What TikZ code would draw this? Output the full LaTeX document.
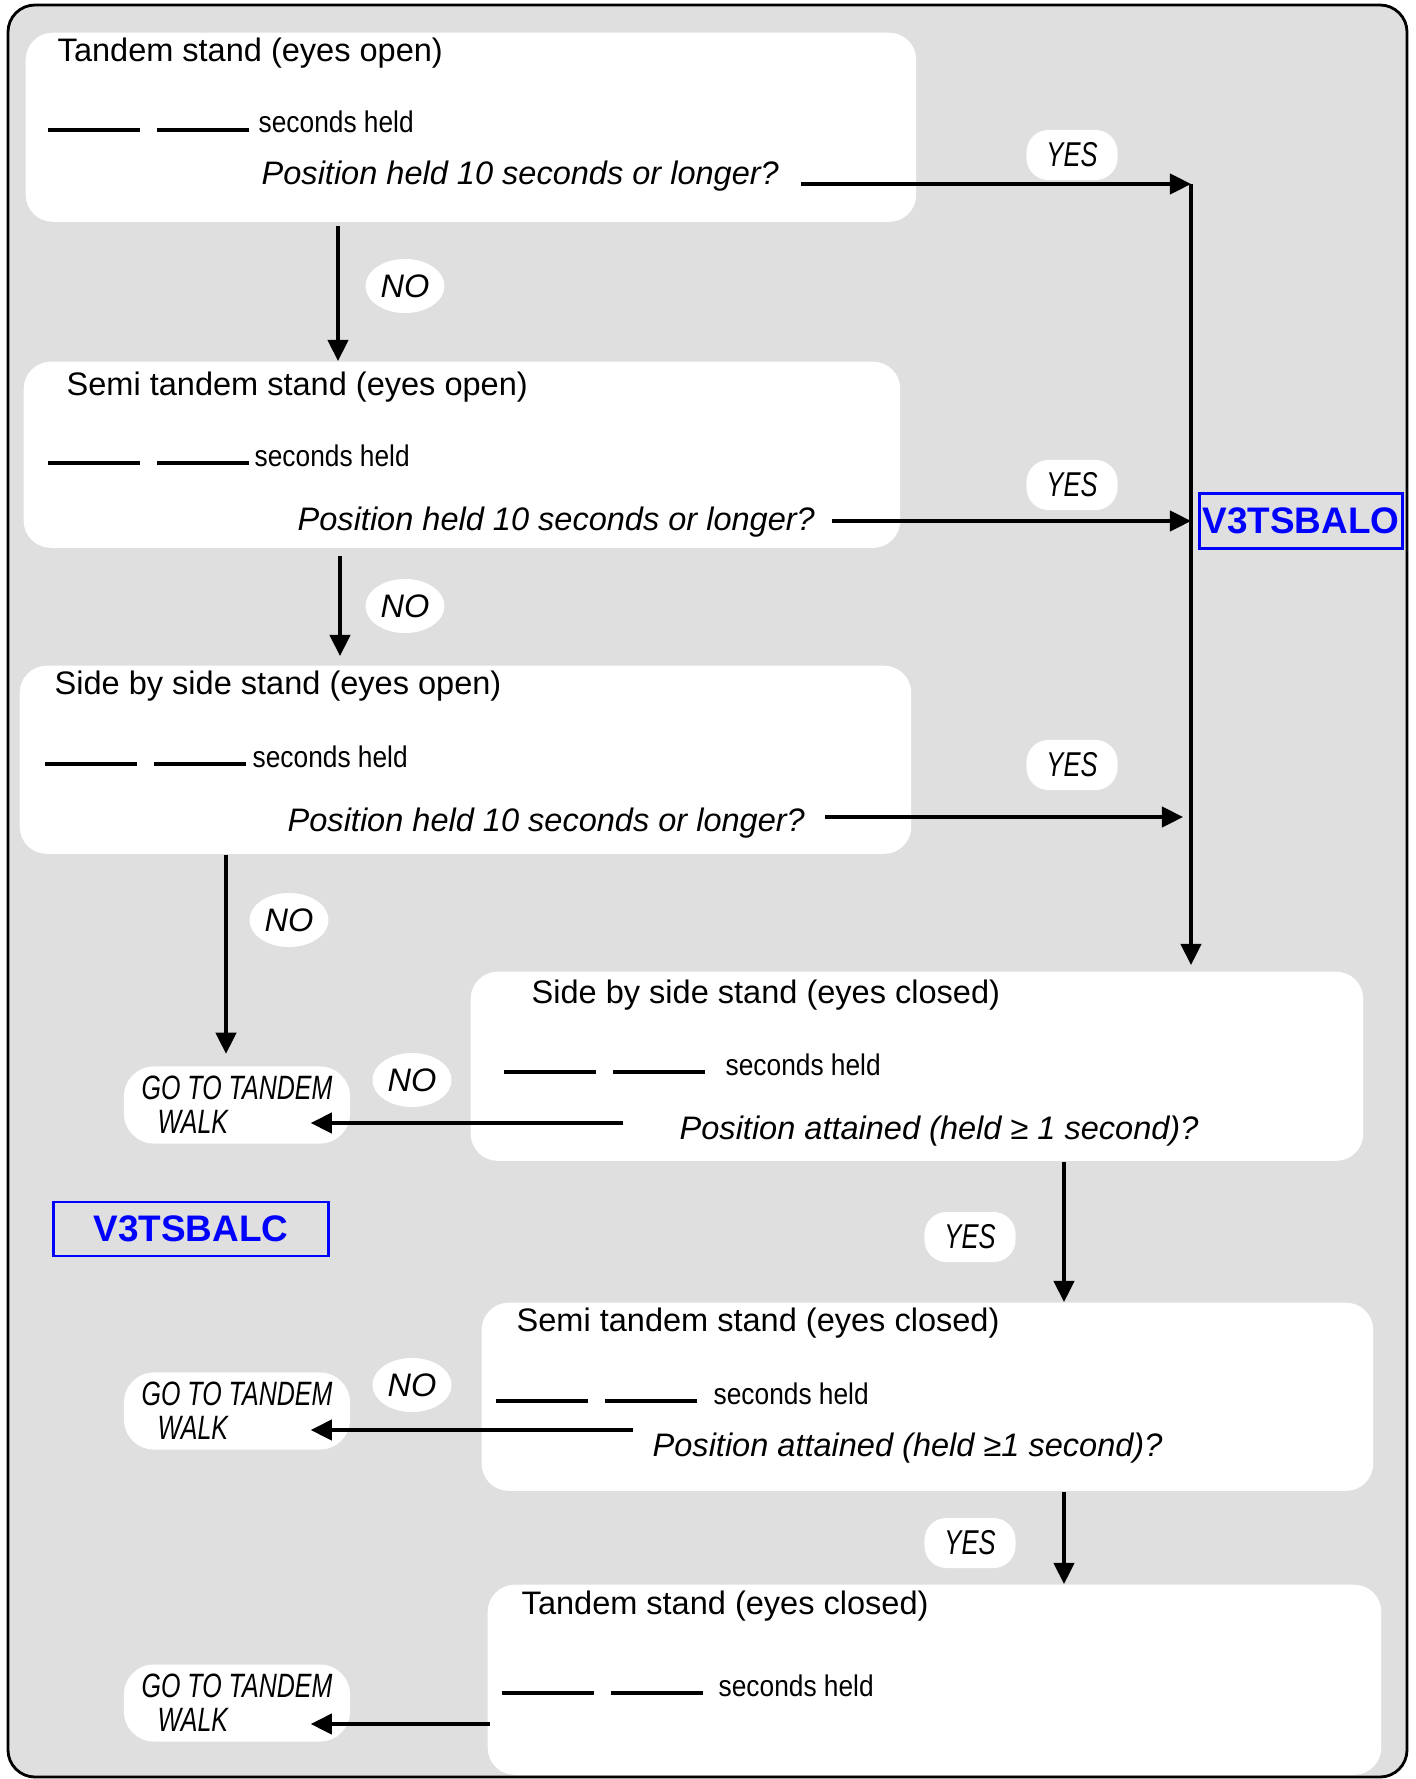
\documentclass[tikz,border=0pt]{standalone}
\usepackage{fontspec}
\setmainfont{Liberation Sans}
\newfontfamily\narrowfont[FakeStretch=0.74]{Liberation Sans}
\newfontfamily\heldfont[FakeStretch=0.88]{Liberation Sans}
\usetikzlibrary{arrows.meta, shapes.geometric, calc}

\begin{document}
\begin{tikzpicture}[
          x=0.01cm, y=-0.01cm,
          every node/.style={inner sep=0pt},
          stepbox/.style={fill=white, rounded corners=0.27cm, anchor=north west},
          title/.style={anchor=west, font=\fontsize{9.25}{11}\selectfont},
          question/.style={anchor=west, font=\fontsize{9.25}{11}\selectfont\itshape},
          held/.style={anchor=base west, font=\heldfont\fontsize{8.5}{10}\selectfont},
          blank/.style={line width=1.1pt},
          yes/.style={fill=white, rounded corners=0.22cm, minimum width=0.91cm, minimum height=0.5cm,
                      font=\narrowfont\fontsize{9.8}{11}\selectfont\itshape},
          no/.style={ellipse, fill=white, minimum width=0.79cm, minimum height=0.54cm,
                     font=\fontsize{9.25}{11}\selectfont\itshape},
          walk/.style={fill=white, rounded corners=0.3cm, minimum width=2.26cm, minimum height=0.77cm,
                       align=left, font=\narrowfont\fontsize{9.6}{9.7}\selectfont\itshape},
          code/.style={draw=blue, line width=0.75pt, text=blue, font=\bfseries\fontsize{10.5}{12}\selectfont},
          arr/.style={line width=0.9pt, -{Triangle[length=6pt, width=5.8pt]}}
        ]
        \useasboundingbox (0,0) rectangle (1415,1779);

        % Frame
        \draw[line width=0.8pt, fill=gray!25, rounded corners=0.27cm] (8,5) rectangle (1407,1777);

        % Tandem stand (eyes open)
        \node[stepbox, minimum width=8.90cm, minimum height=1.89cm] (box1) at (25,32) {};
        \node[title] (t1) at (57,53) {Tandem stand (eyes open)};
        \node[held] (h1) at (258,133) {seconds held};
        \node[question] (q1) at (261,176) {Position held 10 seconds or longer?};

        % Semi tandem stand (eyes open)
        \node[stepbox, minimum width=8.76cm, minimum height=1.86cm] (box2) at (23,361) {};
        \node[title] (t2) at (66,387) {Semi tandem stand (eyes open)};
        \node[held] (h2) at (254,466) {seconds held};
        \node[question] (q2) at (297,522) {Position held 10 seconds or longer?};

        % Side by side stand (eyes open)
        \node[stepbox, minimum width=8.91cm, minimum height=1.88cm] (box3) at (19,665) {};
        \node[title] (t3) at (54,686) {Side by side stand (eyes open)};
        \node[held] (h3) at (252,767) {seconds held};
        \node[question] (q3) at (287,823) {Position held 10 seconds or longer?};

        % Side by side stand (eyes closed)
        \node[stepbox, minimum width=8.92cm, minimum height=1.89cm] (box4) at (470,971) {};
        \node[title] (t4) at (531,995) {Side by side stand (eyes closed)};
        \node[held] (h4) at (725,1075) {seconds held};
        \node[question] (q4) at (679,1131) {Position attained (held ≥ 1 second)?};

        % Semi tandem stand (eyes closed)
        \node[stepbox, minimum width=8.91cm, minimum height=1.88cm] (box5) at (481,1302) {};
        \node[title] (t5) at (516,1323) {Semi tandem stand (eyes closed)};
        \node[held] (h5) at (713,1404) {seconds held};
        \node[question] (q5) at (652,1448) {Position attained (held ≥1 second)?};

        % Tandem stand (eyes closed)
        \node[stepbox, minimum width=8.93cm, minimum height=1.90cm] (box6) at (487,1584) {};
        \node[title] (t6) at (521,1606) {Tandem stand (eyes closed)};
        \node[held] (h6) at (718,1696) {seconds held};

        % Blanks
        \foreach \bx/\by in {48/130, 48/463, 45/764, 504/1072, 496/1401, 502/1693} {
          \draw[blank] (\bx,\by) -- ++(92,0);
          \draw[blank] (\bx+109,\by) -- ++(92,0);
        }

        % Go to tandem walk
        \node[walk] (gtw1) at (237,1105) {GO TO TANDEM\\\hspace*{0.16cm}WALK};
        \node[walk] (gtw2) at (237,1411) {GO TO TANDEM\\\hspace*{0.16cm}WALK};
        \node[walk] (gtw3) at (237,1703) {GO TO TANDEM\\\hspace*{0.16cm}WALK};

        % Codes
        \node[code, minimum width=2.03cm, minimum height=0.55cm] (balo) at (1301,521) {V3TSBALO};
        \node[code, minimum width=2.75cm, minimum height=0.54cm] (balc) at (191,1229) {V3TSBALC};

        % Free ends
        \coordinate (bus) at (1191,184);
        \coordinate (y1s) at (801,184);
        \coordinate (y2s) at (832,521);
        \coordinate (y3s) at (825,817);
        \coordinate (n1) at (338,0);
        \coordinate (n2) at (340,0);
        \coordinate (n3) at (226,0);
        \coordinate (v4) at (1064,0);
        \coordinate (w1) at (623,1123);
        \coordinate (w2) at (633,1430);
        \coordinate (w3) at (490,1724);

        % YES connectors
        \draw[arr] (y1s) -- (y1s -| bus);
        \draw[arr] (y2s) -- (y2s -| bus);
        \draw[arr] (y3s) -- ($(y3s -| bus)+(-8,0)$);
        \draw[arr, shorten >=0.06cm] (bus) -- (bus |- box4.north);
        \draw[arr] (box4.south -| v4) -- (box5.north -| v4);
        \draw[arr] (box5.south -| v4) -- (box6.north -| v4);

        % NO connectors
        \draw[arr, shorten <=0.03cm] (box1.south -| n1) -- (box2.north -| n1);
        \draw[arr, shorten <=0.07cm, shorten >=0.09cm] (box2.south -| n2) -- (box3.north -| n2);
        \draw[arr, shorten >=0.12cm] (box3.south -| n3) -- (gtw1.north -| n3);
        \draw[arr] (w1) -- ($(gtw1.east |- w1)+(-40,0)$);
        \draw[arr] (w2) -- ($(gtw2.east |- w2)+(-40,0)$);
        \draw[arr] (w3) -- ($(gtw3.east |- w3)+(-40,0)$);

        % Labels
        \node[yes] (yes1) at (1072,155) {YES};
        \node[yes] (yes2) at (1072,485) {YES};
        \node[yes] (yes3) at (1072,765) {YES};
        \node[yes] (yes4) at (970,1237) {YES};
        \node[yes] (yes5) at (970,1543) {YES};
        \node[no] (no1) at (405,286) {NO};
        \node[no] (no2) at (405,606) {NO};
        \node[no] (no3) at (289,920) {NO};
        \node[no] (no4) at (412,1080) {NO};
        \node[no] (no5) at (412,1385) {NO};

      \end{tikzpicture}
\end{document}
